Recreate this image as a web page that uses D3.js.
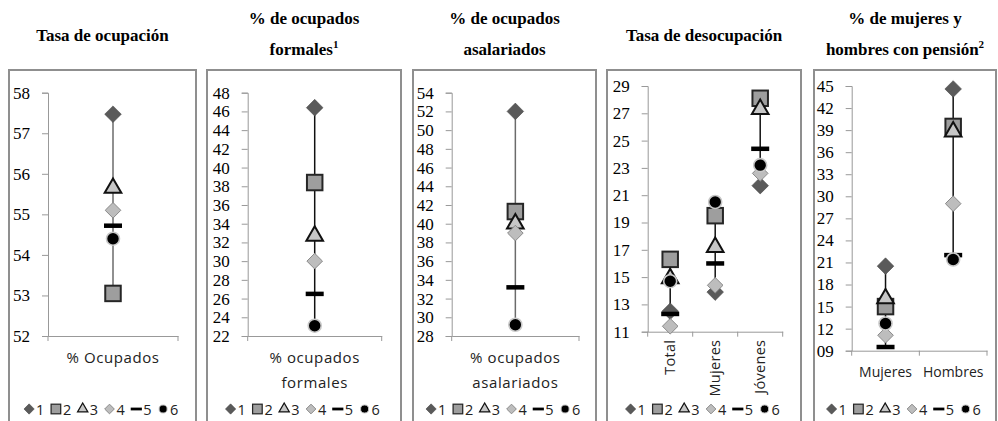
<!DOCTYPE html>
<html><head><meta charset="utf-8">
<script src="https://cdn.jsdelivr.net/npm/d3@7"></script>
<style>
body{margin:0;background:#fff;}
svg{display:block;}
</style></head>
<body>
<svg id="chart" width="998" height="421"></svg>
<script>
// ---- data ----
const seriesNames = ["1", "2", "3", "4", "5", "6"];

const titles = [
  ["Tasa de ocupación"],
  ["% de ocupados", "formales", "1"],
  ["% de ocupados", "asalariados"],
  ["Tasa de desocupación"],
  ["% de mujeres y", "hombres con pensión", "2"]
];

const catOcupacion = ["% Ocupados"];
const catFormales = ["% ocupados|formales"];
const catAsalariados = ["% ocupados|asalariados"];
const catDesocupacion = ["Total", "Mujeres", "Jóvenes"];
const catPension = ["Mujeres", "Hombres"];

// values by series 1..6 per category
const ocupados = [57.47, 53.05, 55.65, 55.1, 54.72, 54.4];
const formales = [46.4, 38.4, 32.7, 30.0, 26.5, 23.1];
const asalariados = [52.0, 41.3, 40.0, 39.0, 33.2, 29.2];
const desocTotal = [12.5, 16.3, 14.9, 11.4, 12.3, 14.7];
const desocMujeres = [13.9, 19.5, 17.2, 14.4, 16.0, 20.5];
const desocJovenes = [21.7, 28.1, 27.3, 22.6, 24.4, 23.2];
const pensionMujeres = [20.5, 15.0, 16.1, 11.1, 9.5, 12.7];
const pensionHombres = [44.6, 39.5, 38.8, 29.0, 22.0, 21.4];

const ticksOcupacion = [52, 53, 54, 55, 56, 57, 58];
const ticksFormales = [22, 24, 26, 28, 30, 32, 34, 36, 38, 40, 42, 44, 46, 48];
const ticksAsalariados = [28, 30, 32, 34, 36, 38, 40, 42, 44, 46, 48, 50, 52, 54];
const ticksDesocupacion = [11, 13, 15, 17, 19, 21, 23, 25, 27, 29];
const ticksPension = [9, 12, 15, 18, 21, 24, 27, 30, 33, 36, 39, 42, 45];

// ---- layout ----
const panels = [
  {box:[9,196], x:[48,178], y:[336,92.7], dom:[52,58], ticks:ticksOcupacion, cats:catOcupacion,
   vals:[ocupados], line:"#6b6b6b", fmt:d3.format("d"), rot:false},
  {box:[207,401], x:[247.7,381.7], y:[336,92.7], dom:[22,48], ticks:ticksFormales, cats:catFormales,
   vals:[formales], line:"#111", fmt:d3.format("d"), rot:false},
  {box:[413,596], x:[451.7,579], y:[336,92.7], dom:[28,54], ticks:ticksAsalariados, cats:catAsalariados,
   vals:[asalariados], line:"#6b6b6b", fmt:d3.format("d"), rot:false},
  {box:[607,801], x:[647.7,782.7], y:[331.7,86], dom:[11,29], ticks:ticksDesocupacion, cats:catDesocupacion,
   vals:[desocTotal, desocMujeres, desocJovenes], line:"#111", fmt:d3.format("d"), rot:true},
  {box:[814,996], x:[851.7,987], y:[350.7,86], dom:[9,45], ticks:ticksPension, cats:catPension,
   vals:[pensionMujeres, pensionHombres], line:"#111", fmt:d3.format("02d"), rot:false}
];

const svg = d3.select("#chart");
const sansFont = "'Open Sans', 'Liberation Sans', sans-serif";
const serifFont = "'Liberation Serif', 'Times New Roman', serif";

const diamondPath = s => `M0,${-s}L${s},0L0,${s}L${-s},0Z`;

function drawMarker(g, i, x, y, k) {
  if (i === 0) {
    g.append("path").attr("d", diamondPath(8.3*k)).attr("transform", `translate(${x},${y})`)
      .attr("fill", "#5a5a5a").attr("stroke", "#4a4a4a").attr("stroke-width", 0.6);
  } else if (i === 1) {
    const s = 15.5*k;
    g.append("rect").attr("x", x - s/2).attr("y", y - s/2).attr("width", s).attr("height", s)
      .attr("fill", "#9e9e9e").attr("stroke", "#262626").attr("stroke-width", 2*k);
  } else if (i === 2) {
    g.append("path").attr("d", d3.symbol(d3.symbolTriangle, 120*k*k)())
      .attr("transform", `translate(${x},${y})`)
      .attr("fill", "#c6c6c6").attr("stroke", "#111").attr("stroke-width", 2*k);
  } else if (i === 3) {
    g.append("path").attr("d", diamondPath(7.8*k)).attr("transform", `translate(${x},${y})`)
      .attr("fill", "#bdbdbd").attr("stroke", "#8a8a8a").attr("stroke-width", 1);
  } else if (i === 4) {
    const w = 18*k, h = 4.5*k;
    g.append("rect").attr("x", x - w/2).attr("y", y - h/2).attr("width", w).attr("height", h)
      .attr("fill", "#000");
  } else if (i === 5) {
    g.append("circle").attr("cx", x).attr("cy", y).attr("r", 6.5*k)
      .attr("fill", "#000").attr("stroke", "#c8c8c8").attr("stroke-width", 1.6*k);
  }
}

panels.forEach((p, pi) => {
  const g = svg.append("g");
  const cx = (p.box[0] + p.box[1]) / 2;

  // title
  const t = titles[pi];
  const tg = g.append("text").style("font-family", serifFont)
    .style("font-weight", "bold").style("font-size", "17px").attr("fill", "#000");
  if (t.length === 1) {
    const a = tg.append("tspan").attr("y", 41).text(t[0]);
    a.attr("x", cx - a.node().getComputedTextLength()/2);
  } else {
    const a = tg.append("tspan").attr("y", 24).text(t[0]);
    a.attr("x", cx - a.node().getComputedTextLength()/2);
    const b = tg.append("tspan").attr("y", 55).text(t[1]);
    let w2 = b.node().getComputedTextLength();
    if (t[2]) {
      const sup = tg.append("tspan").attr("dy", -7).style("font-size", "11px").text(t[2]);
      w2 += sup.node().getComputedTextLength();
    }
    b.attr("x", cx - w2/2);
  }

  // border
  g.append("rect").attr("x", p.box[0]).attr("y", 70).attr("width", p.box[1] - p.box[0])
    .attr("height", 370).attr("fill", "none").attr("stroke", "#8f8f8f").attr("stroke-width", 2);

  const y = d3.scaleLinear().domain(p.dom).range(p.y);
  const x = d3.scaleBand().domain(p.cats).range(p.x).padding(0);

  // y axis
  const ya = g.append("g").attr("transform", `translate(${p.x[0]},0)`)
    .call(d3.axisLeft(y).tickValues(p.ticks).tickFormat(p.fmt).tickSize(6).tickPadding(12));
  ya.select(".domain").attr("stroke", "#999");
  ya.selectAll(".tick line").attr("stroke", "#999");
  ya.selectAll(".tick text").style("font-family", serifFont).style("font-size", "17px").attr("fill", "#000");

  // x axis
  const xa = g.append("g").attr("transform", `translate(0,${p.y[0]})`)
    .call(d3.axisBottom(x).tickSize(0).tickFormat(""));
  xa.select(".domain").attr("stroke", "#999");
  const bounds = [p.x[0]].concat(p.cats.map(c => x(c) + x.bandwidth()));
  xa.selectAll(".bt").data(bounds).enter().append("line").attr("class", "bt")
    .attr("x1", d => d).attr("x2", d => d).attr("y1", 0).attr("y2", 5).attr("stroke", "#999");

  // category labels
  p.cats.forEach(c => {
    const xc = x(c) + x.bandwidth()/2;
    if (p.rot) {
      g.append("text").attr("transform", `translate(${xc},${p.y[0] + 8}) rotate(-90)`)
        .attr("text-anchor", "end").attr("dy", "0.35em").style("font-family", sansFont)
        .style("font-size", "14.5px").style("letter-spacing", "0.3px").attr("fill", "#222").text(c);
    } else {
      const lines = c.split("|");
      const tt = g.append("text").attr("text-anchor", "middle").style("font-family", sansFont)
        .style("font-size", pi === 4 ? "14px" : "15px").style("letter-spacing", pi === 4 ? "0px" : "0.6px")
        .attr("fill", "#222");
      const baseY = pi === 4 ? 377 : 363;
      lines.forEach((ln, li) => tt.append("tspan").attr("x", xc).attr("y", baseY + li*25).text(ln));
    }
  });

  // high-low lines and markers
  const mg = g.append("g");
  p.cats.forEach((c, ci) => {
    const v = p.vals[ci];
    const xc = x(c) + x.bandwidth()/2;
    mg.append("line").attr("x1", xc).attr("x2", xc)
      .attr("y1", y(d3.max(v))).attr("y2", y(d3.min(v)))
      .attr("stroke", p.line).attr("stroke-width", 1.5);
  });
  seriesNames.forEach((s, si) => {
    p.cats.forEach((c, ci) => {
      const xc = x(c) + x.bandwidth()/2;
      drawMarker(mg, si, xc, y(p.vals[ci][si]), 1);
    });
  });

  // legend
  const lg = g.append("g");
  const step = 26.8;
  const lx0 = cx - step*3 + 7;
  seriesNames.forEach((s, si) => {
    const lx = lx0 + si*step;
    drawMarker(lg, si, lx, 409, 0.62);
    lg.append("text").attr("x", lx + 7).attr("y", 414.5).style("font-family", sansFont)
      .style("font-size", "14.5px").attr("fill", "#222").text(s);
  });
});
</script>
</body></html>
